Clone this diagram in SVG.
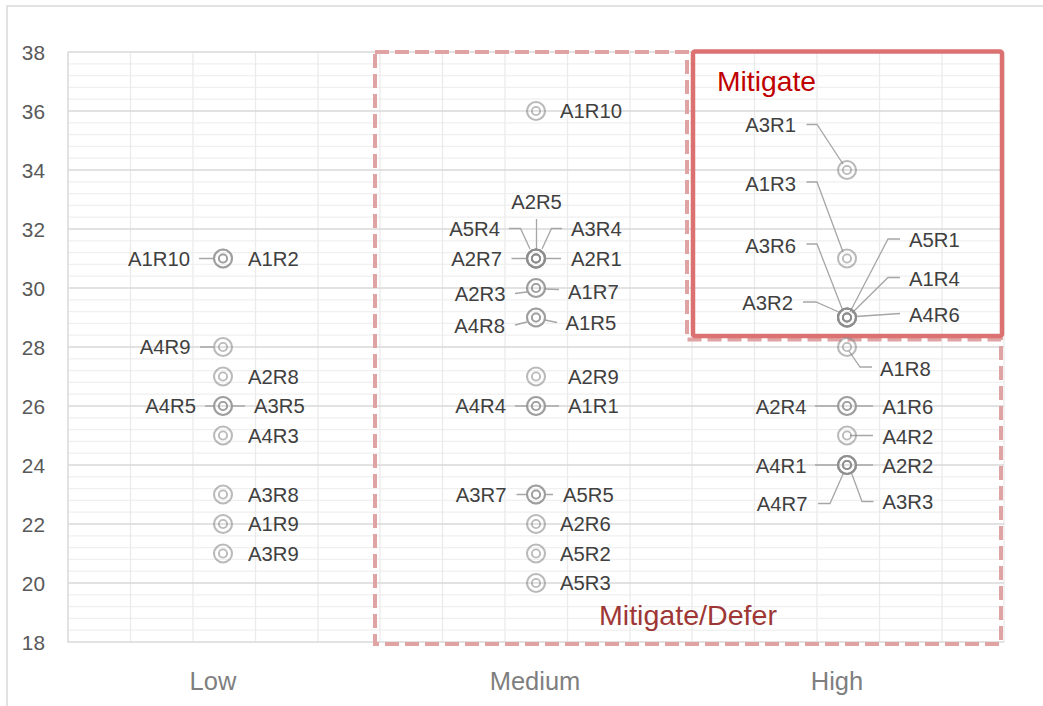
<svg xmlns="http://www.w3.org/2000/svg" xmlns:xlink="http://www.w3.org/1999/xlink" width="1043" height="706" viewBox="0 0 1043 706">
<defs>
<style>
.minor{stroke:#f0f0f0;stroke-width:1.3;fill:none}
.major{stroke:#d9d9d9;stroke-width:1.3;fill:none}
.vert{stroke:#ebebeb;stroke-width:1.3;fill:none}
.axis{stroke:#d9d9d9;stroke-width:1.5;fill:none}
.mk circle{fill:none;stroke:rgba(140,140,140,0.6)}
.lead{stroke:#a6a6a6;stroke-width:1.3;fill:none}
.lbl{font-family:"Liberation Sans",Arial,sans-serif;font-size:20.3px;fill:#404040}
.ytick{font-family:"Liberation Sans",Arial,sans-serif;font-size:20.8px;fill:#595959;text-anchor:end}
.cat{font-family:"Liberation Sans",Arial,sans-serif;font-size:25.5px;fill:#7f7f7f;text-anchor:middle}
.e{text-anchor:end}
.m{text-anchor:middle}
</style>
<g id="mk" class="mk"><circle r="9" stroke-width="2.1"/><circle r="4.1" stroke-width="1.9"/></g>
</defs>
<rect x="0" y="0" width="1043" height="706" fill="#ffffff"/>
<rect x="7" y="6" width="1060" height="720" fill="none" stroke="#d9d9d9" stroke-width="1.5"/>
<g id="grid">
<path class="minor" d="M68 63.8H1004M68 75.6H1004M68 87.4H1004M68 99.2H1004M68 122.8H1004M68 134.6H1004M68 146.4H1004M68 158.2H1004M68 181.8H1004M68 193.6H1004M68 205.4H1004M68 217.2H1004M68 240.8H1004M68 252.6H1004M68 264.4H1004M68 276.2H1004M68 299.8H1004M68 311.6H1004M68 323.4H1004M68 335.2H1004M68 358.8H1004M68 370.6H1004M68 382.4H1004M68 394.2H1004M68 417.8H1004M68 429.6H1004M68 441.4H1004M68 453.2H1004M68 476.8H1004M68 488.6H1004M68 500.4H1004M68 512.2H1004M68 535.8H1004M68 547.6H1004M68 559.4H1004M68 571.2H1004M68 594.8H1004M68 606.6H1004M68 618.4H1004M68 630.2H1004"/>
<path class="vert" d="M130.5 52V642M193 52V642M255.5 52V642M318 52V642M380 52V642M442.5 52V642M505 52V642M567.5 52V642M630 52V642M692 52V642M754.5 52V642M817 52V642M879.5 52V642M942 52V642M1004 52V642"/>
<path class="major" d="M68 52H1004M68 111H1004M68 170H1004M68 229H1004M68 288H1004M68 347H1004M68 406H1004M68 465H1004M68 524H1004M68 583H1004"/>
<path class="axis" d="M68 52V642H1004"/>
</g>
<g id="yaxis">
<text class="ytick" x="45" y="59.5">38</text>
<text class="ytick" x="45" y="118.5">36</text>
<text class="ytick" x="45" y="177.5">34</text>
<text class="ytick" x="45" y="236.5">32</text>
<text class="ytick" x="45" y="295.5">30</text>
<text class="ytick" x="45" y="354.5">28</text>
<text class="ytick" x="45" y="413.5">26</text>
<text class="ytick" x="45" y="472.5">24</text>
<text class="ytick" x="45" y="531.5">22</text>
<text class="ytick" x="45" y="590.5">20</text>
<text class="ytick" x="45" y="649.5">18</text>
</g>
<g id="xaxis">
<text class="cat" x="213" y="690">Low</text>
<text class="cat" x="535" y="690">Medium</text>
<text class="cat" x="837" y="690">High</text>
</g>
<g id="zone-defer">
<path d="M375 52H687V339.5H1001V644H375Z" fill="none" stroke="#e0a3a3" stroke-width="4" stroke-dasharray="14 6"/>
<text x="599" y="625" font-family="'Liberation Sans',Arial,sans-serif" font-size="28" fill="#9e3735" textLength="178" lengthAdjust="spacingAndGlyphs">Mitigate/Defer</text>
</g>
<g id="zone-mitigate">
<rect x="693" y="51.5" width="309" height="284.5" rx="2" fill="none" stroke="#dc7171" stroke-width="4.5"/>
<text x="717" y="91" font-family="'Liberation Sans',Arial,sans-serif" font-size="28" fill="#c00000" textLength="99" lengthAdjust="spacingAndGlyphs">Mitigate</text>
</g>
<g id="connectors">
<path class="lead" d="M199 258.5H213M200 347H213M205 406H213M233 406H245"/>
<path class="lead" d="M536.5 219V250M509 228.5H520.5L530 249M562 228.5H551.5L542 249M511.5 258.5H526M546 258.5H561M515 293.5L527 292M545 289L559 289.5M515 325L527 322M545 320L557 322.5M515 406H526M546 406H559M516.5 494.5H526M546 494.5H553"/>
<path class="lead" d="M806.5 124.5H817L843 164M806.5 182H817L843 252M806.5 244H817L843 311M803 302H816L841 313M900 239H888L850 312M900 277.5H888L852 313M900 313.5L856 316.5M849 351L860 367H872M815 406H837M857 406H873M850 435.5H873M815 465H837M857 465H873M818 503.5H830L843.5 473M873.5 501.5H862L851.5 473"/>
</g>
<g id="low-A1R10"><use href="#mk" x="223" y="258.5"/><text class="lbl e" x="190" y="265.5">A1R10</text></g>
<g id="low-A1R2"><use href="#mk" x="223" y="258.5"/><text class="lbl" x="248" y="265.5">A1R2</text></g>
<g id="low-A4R9"><use href="#mk" x="223" y="347"/><text class="lbl e" x="190.5" y="354">A4R9</text></g>
<g id="low-A2R8"><use href="#mk" x="223" y="376.5"/><text class="lbl" x="248" y="383.5">A2R8</text></g>
<g id="low-A4R5"><use href="#mk" x="223" y="406"/><text class="lbl e" x="196" y="413">A4R5</text></g>
<g id="low-A3R5"><use href="#mk" x="223" y="406"/><text class="lbl" x="254" y="413">A3R5</text></g>
<g id="low-A4R3"><use href="#mk" x="223" y="435.5"/><text class="lbl" x="248" y="442.5">A4R3</text></g>
<g id="low-A3R8"><use href="#mk" x="223" y="494.5"/><text class="lbl" x="248" y="501.5">A3R8</text></g>
<g id="low-A1R9"><use href="#mk" x="223" y="524"/><text class="lbl" x="248" y="531">A1R9</text></g>
<g id="low-A3R9"><use href="#mk" x="223" y="553.5"/><text class="lbl" x="248" y="560.5">A3R9</text></g>
<g id="med-A1R10"><use href="#mk" x="536" y="111"/><text class="lbl" x="560" y="118">A1R10</text></g>
<g id="med-A2R5"><use href="#mk" x="536" y="258.5"/><text class="lbl m" x="536.5" y="208.5">A2R5</text></g>
<g id="med-A5R4"><use href="#mk" x="536" y="258.5"/><text class="lbl e" x="500" y="236">A5R4</text></g>
<g id="med-A3R4"><use href="#mk" x="536" y="258.5"/><text class="lbl" x="571" y="236">A3R4</text></g>
<g id="med-A2R7"><use href="#mk" x="536" y="258.5"/><text class="lbl e" x="502" y="265.5">A2R7</text></g>
<g id="med-A2R1"><use href="#mk" x="536" y="258.5"/><text class="lbl" x="571" y="265.5">A2R1</text></g>
<g id="med-A2R3"><use href="#mk" x="536" y="288"/><text class="lbl e" x="505.5" y="301">A2R3</text></g>
<g id="med-A1R7"><use href="#mk" x="536" y="288"/><text class="lbl" x="568" y="298.5">A1R7</text></g>
<g id="med-A4R8"><use href="#mk" x="536" y="317.5"/><text class="lbl e" x="505" y="332.5">A4R8</text></g>
<g id="med-A1R5"><use href="#mk" x="536" y="317.5"/><text class="lbl" x="565.5" y="330">A1R5</text></g>
<g id="med-A2R9"><use href="#mk" x="536" y="376.5"/><text class="lbl" x="568" y="383.5">A2R9</text></g>
<g id="med-A4R4"><use href="#mk" x="536" y="406"/><text class="lbl e" x="506" y="413">A4R4</text></g>
<g id="med-A1R1"><use href="#mk" x="536" y="406"/><text class="lbl" x="568" y="413">A1R1</text></g>
<g id="med-A3R7"><use href="#mk" x="536" y="494.5"/><text class="lbl e" x="506.5" y="501.5">A3R7</text></g>
<g id="med-A5R5"><use href="#mk" x="536" y="494.5"/><text class="lbl" x="563" y="501.5">A5R5</text></g>
<g id="med-A2R6"><use href="#mk" x="536" y="524"/><text class="lbl" x="560" y="531">A2R6</text></g>
<g id="med-A5R2"><use href="#mk" x="536" y="553.5"/><text class="lbl" x="560" y="560.5">A5R2</text></g>
<g id="med-A5R3"><use href="#mk" x="536" y="583"/><text class="lbl" x="560" y="590">A5R3</text></g>
<g id="high-A3R1"><use href="#mk" x="847" y="170"/><text class="lbl e" x="796" y="132">A3R1</text></g>
<g id="high-A1R3"><use href="#mk" x="847" y="258.5"/><text class="lbl e" x="796" y="191">A1R3</text></g>
<g id="high-A3R6"><use href="#mk" x="847" y="317.5"/><text class="lbl e" x="796" y="253">A3R6</text></g>
<g id="high-A3R2"><use href="#mk" x="847" y="317.5"/><text class="lbl e" x="793" y="310">A3R2</text></g>
<g id="high-A5R1"><use href="#mk" x="847" y="317.5"/><text class="lbl" x="909" y="247">A5R1</text></g>
<g id="high-A1R4"><use href="#mk" x="847" y="317.5"/><text class="lbl" x="909" y="286">A1R4</text></g>
<g id="high-A4R6"><use href="#mk" x="847" y="317.5"/><text class="lbl" x="909" y="322">A4R6</text></g>
<g id="high-A1R8"><use href="#mk" x="847" y="347"/><text class="lbl" x="880" y="376">A1R8</text></g>
<g id="high-A2R4"><use href="#mk" x="847" y="406"/><text class="lbl e" x="806.5" y="414">A2R4</text></g>
<g id="high-A1R6"><use href="#mk" x="847" y="406"/><text class="lbl" x="882.5" y="414">A1R6</text></g>
<g id="high-A4R2"><use href="#mk" x="847" y="435.5"/><text class="lbl" x="882.5" y="443.5">A4R2</text></g>
<g id="high-A4R1"><use href="#mk" x="847" y="465"/><text class="lbl e" x="806.5" y="473">A4R1</text></g>
<g id="high-A2R2"><use href="#mk" x="847" y="465"/><text class="lbl" x="882.5" y="473">A2R2</text></g>
<g id="high-A4R7"><use href="#mk" x="847" y="465"/><text class="lbl e" x="807.5" y="511">A4R7</text></g>
<g id="high-A3R3"><use href="#mk" x="847" y="465"/><text class="lbl" x="882.5" y="508.5">A3R3</text></g>
</svg>
